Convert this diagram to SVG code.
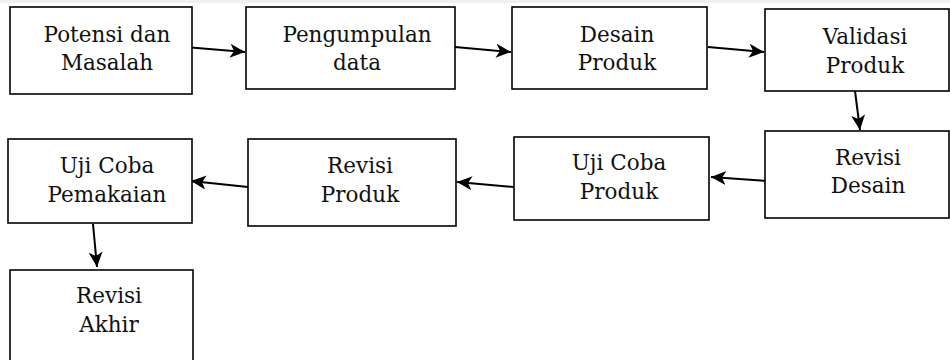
<svg xmlns="http://www.w3.org/2000/svg" width="950" height="360" viewBox="0 0 950 360">
<style>
.box{fill:#fff;stroke:#000;stroke-width:1.6}
.t{font-family:"DejaVu Serif","Liberation Serif",serif;font-size:21.5px;fill:#111;text-anchor:middle}
.c{stroke:#000;stroke-width:2;fill:none;marker-end:url(#ah)}
</style>
<defs>
<marker id="ah" markerUnits="userSpaceOnUse" markerWidth="18" markerHeight="16" refX="15" refY="7" orient="auto">
<path d="M0,0 L15,7 L0,14 L4,7 Z" fill="#000"/>
</marker>
</defs>
<rect x="0" y="0" width="950" height="3" fill="#f0f0f0"/>
<g id="connectors">
<line class="c" x1="185" y1="47" x2="245" y2="52"/>
<line class="c" x1="455" y1="47" x2="511" y2="52"/>
<line class="c" x1="708" y1="47" x2="764" y2="52"/>
<line class="c" x1="855" y1="91" x2="860" y2="130"/>
<line class="c" x1="767" y1="181" x2="711" y2="177"/>
<line class="c" x1="514" y1="187" x2="457" y2="182"/>
<line class="c" x1="248" y1="187" x2="191" y2="181"/>
<line class="c" x1="93" y1="224" x2="97" y2="267"/>
</g>
<g id="potensi">
<rect class="box" x="10" y="7" width="182" height="87"/>
<text class="t" x="107" y="42">Potensi dan</text>
<text class="t" x="107" y="70">Masalah</text>
</g>
<g id="pengumpulan">
<rect class="box" x="246" y="7" width="209" height="82"/>
<text class="t" x="357" y="42">Pengumpulan</text>
<text class="t" x="357" y="70">data</text>
</g>
<g id="desain">
<rect class="box" x="512" y="7" width="195" height="82"/>
<text class="t" x="617" y="42">Desain</text>
<text class="t" x="617" y="70">Produk</text>
</g>
<g id="validasi">
<rect class="box" x="765" y="9" width="184" height="82"/>
<text class="t" x="865" y="44">Validasi</text>
<text class="t" x="865" y="73">Produk</text>
</g>
<g id="revisi-desain">
<rect class="box" x="765" y="131" width="184" height="87"/>
<text class="t" x="868" y="165">Revisi</text>
<text class="t" x="868" y="193">Desain</text>
</g>
<g id="uji-coba-produk">
<rect class="box" x="514" y="137" width="195" height="83"/>
<text class="t" x="619" y="170">Uji Coba</text>
<text class="t" x="619" y="199">Produk</text>
</g>
<g id="revisi-produk">
<rect class="box" x="248" y="139" width="208" height="87"/>
<text class="t" x="360" y="173">Revisi</text>
<text class="t" x="360" y="202">Produk</text>
</g>
<g id="uji-coba-pemakaian">
<rect class="box" x="8" y="139" width="184" height="84"/>
<text class="t" x="107" y="173">Uji Coba</text>
<text class="t" x="107" y="202">Pemakaian</text>
</g>
<g id="revisi-akhir">
<rect class="box" x="10" y="270" width="183" height="100"/>
<text class="t" x="109" y="303">Revisi</text>
<text class="t" x="109" y="332">Akhir</text>
</g>
</svg>
